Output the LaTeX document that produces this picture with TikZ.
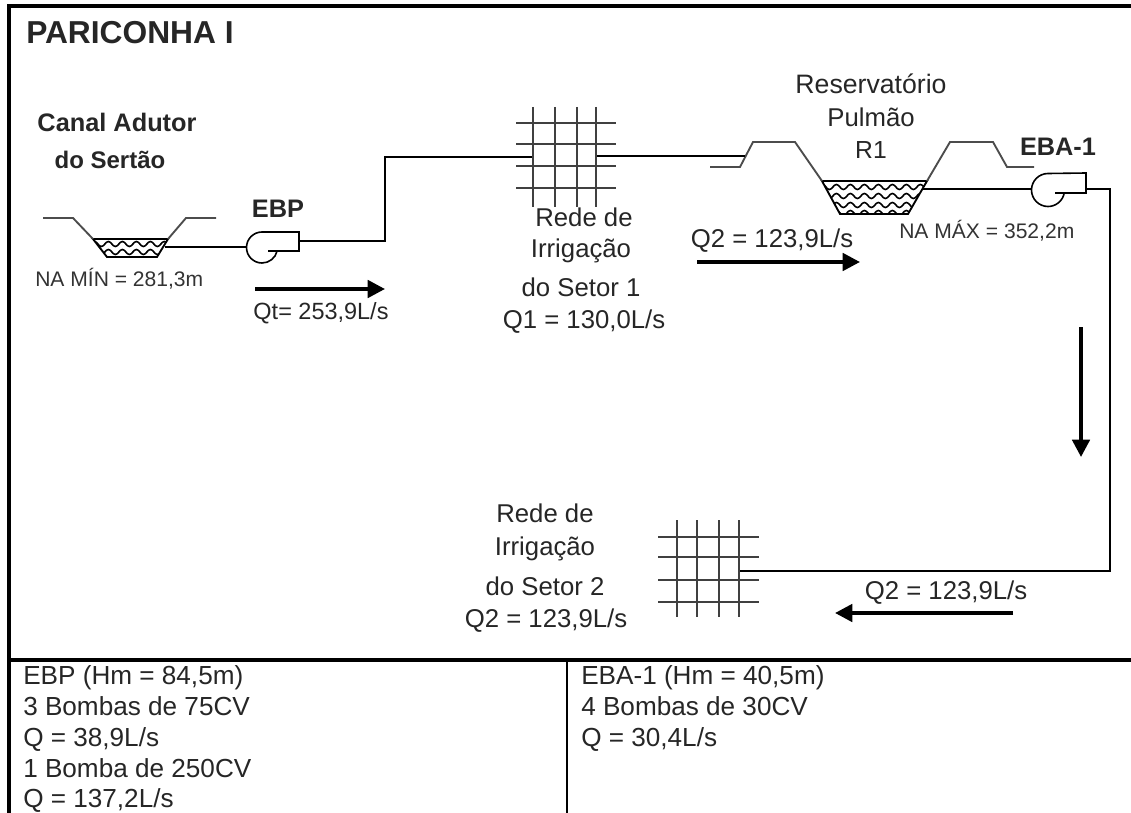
\documentclass[tikz,border=0pt]{standalone}
\usepackage{fontspec}
\setmainfont{Liberation Sans}
\usepackage{tikz}
\usetikzlibrary{decorations.pathmorphing}
\usetikzlibrary{arrows.meta}
\tikzset{
  pipe/.style={line width=1.1pt},
  bank/.style={line width=1.4pt, draw=black!70},
  frameline/.style={line width=3pt},
  flow/.style={line width=2.8pt, -{Triangle[length=13pt,width=13pt]}},
  gridline/.style={line width=2pt, draw=black!75},
  wave/.style={line width=1.2pt, decorate, decoration={snake, amplitude=1.9pt, segment length=10.5pt}},
  txt/.style={font=\fontsize{19.3}{23}\selectfont, inner sep=0pt, align=center, text=black!85},
  small/.style={font=\fontsize{15.8}{19}\selectfont, inner sep=0pt, anchor=west, text=black!80},
  bold/.style={font=\fontsize{19}{23}\selectfont\bfseries, inner sep=0pt, align=center, text=black!85},
  tabletxt/.style={font=\fontsize{19.6}{23.2}\selectfont, inner sep=0pt, align=left, anchor=north west, text=black!85}
}
\begin{document}
\begin{tikzpicture}[x=0.75pt,y=-0.75pt]

  \useasboundingbox (0,0) rectangle (1131,813);

  % frame
  \coordinate (f1) at (8.5,6.5);
  \coordinate (f2) at (1131,6.5);
  \coordinate (f3) at (8.5,813);
  \draw[frameline] (f3) -- (f1) -- (f2);
  \draw[frameline] (8.5,660) -- (1131,660);
  \draw[line width=1.4pt] (567,660) -- (567,813);

  % canal
  \coordinate (c1) at (93,239);
  \coordinate (c2) at (168,239);
  \coordinate (c3) at (157,257);
  \coordinate (c4) at (107,257);
  \begin{scope}
    \clip (c1) -- (c2) -- (c3) -- (c4) -- cycle;
    \foreach \y in {244,252}
      \draw[wave] (90,\y) -- (172,\y);
  \end{scope}
  \draw[line width=1.4pt] (c1) -- (c2) -- (c3) -- (c4) -- cycle;
  \draw[bank] (43,218) -- (73,218) -- (c1);
  \draw[bank] (c2) -- (186,218) -- (216,218);

  % reservoir
  \coordinate (r1) at (822,181);
  \coordinate (r2) at (927,181);
  \coordinate (r3) at (908,214);
  \coordinate (r4) at (840,214);
  \begin{scope}
    \clip (r1) -- (r2) -- (r3) -- (r4) -- cycle;
    \foreach \y in {187,196,205,213}
      \draw[wave] (818,\y) -- (932,\y);
  \end{scope}
  \draw[line width=1.4pt] (r1) -- (r2) -- (r3) -- (r4) -- cycle;
  \draw[bank] (710,167) -- (740,167) -- (753,142) -- (795,142) -- (r1);
  \draw[bank] (r2) -- (950,142) -- (993,142) -- (1007,167) -- (1034,167);

  % pumps
  \coordinate (ebp) at (262,247.5);
  \coordinate (eba) at (1048,190);
  \draw[line width=1.2pt] (ebp) ++(-90:15.5) -- (299,232) -- (299,251) -- (268,251);
  \draw[line width=1.2pt] (ebp) ++(-90:15.5) arc (-90:-347:15.5);
  \draw[line width=1.2pt] (eba) ++(-90:16.5) -- (1086,173) -- (1086,193) -- (1055,193);
  \draw[line width=1.2pt] (eba) ++(-90:16.5) arc (-90:-349:16.5);

  % pipes
  \draw[pipe] (165,247) -- (246.5,247);
  \draw[pipe] (299,241) -- (385,241) -- (385,157) -- (533,157);
  \draw[pipe] (596,156) -- (745,156);
  \draw[pipe] (923,189) -- (1031.5,189);
  \draw[pipe] (1086,189) -- (1110,189) -- (1110,571) -- (739,571);

  % grids
  \foreach \x in {533,555,577,596}
    \draw[gridline] (\x,107) -- (\x,207);
  \foreach \y in {123,144,166,188}
    \draw[gridline] (516,\y) -- (616,\y);
  \foreach \x in {677,697,719,739}
    \draw[gridline] (\x,520) -- (\x,617);
  \foreach \y in {537,557,580,602}
    \draw[gridline] (658,\y) -- (759,\y);

  % flows
  \draw[flow] (255,289) -- (385,289);
  \draw[flow] (697,262) -- (860,262);
  \draw[flow] (1081,327) -- (1081,457);
  \draw[flow] (1013,613) -- (835,613);

  % labels
  \node[font=\fontsize{23.8}{28}\selectfont\bfseries, inner sep=0pt, anchor=west, text=black!85] (title) at (26,33) {PARICONHA I};
  \node[bold] (canal1) at (117,122) {Canal Adutor};
  \node[bold, font=\fontsize{18}{23}\selectfont\bfseries] (canal2) at (110,160) {do Sertão};
  \node[bold] (ebplabel) at (278,209) {EBP};
  \node[bold] (ebalabel) at (1058,147) {EBA-1};
  \node[small] (namin) at (35,279) {NA MÍN = 281,3m};
  \node[small] (namax) at (899,231) {NA MÁX = 352,2m};
  \node[txt, font=\fontsize{20}{23}\selectfont] (res) at (871,84) {Reservatório};
  \node[txt] (pul) at (871,117) {Pulmão};
  \node[txt, font=\fontsize{18.5}{23}\selectfont] (r1label) at (871,150) {R1};
  \node[txt] (s1a) at (584,217) {Rede de};
  \node[txt] (s1b) at (581,251) {Irrigação};
  \node[txt] (s1c) at (581,287) {do Setor 1};
  \node[txt] (s1d) at (584,322) {Q1 = 130,0L/s};
  \node[txt, font=\fontsize{17.6}{23}\selectfont] (qt) at (321,313) {Qt= 253,9L/s};
  \node[txt] (q2a) at (772,241) {Q2 = 123,9L/s};
  \node[txt] (q2b) at (946,593) {Q2 = 123,9L/s};
  \node[txt] (s2a) at (545,513) {Rede de};
  \node[txt] (s2b) at (545,549) {Irrigação};
  \node[txt] (s2c) at (545,586) {do Setor 2};
  \node[txt] (s2d) at (546,621) {Q2 = 123,9L/s};

  \node[tabletxt] (ebptab) at (23,665) {EBP (Hm = 84,5m)\\3 Bombas de 75CV\\Q = 38,9L/s\\1 Bomba de 250CV\\Q = 137,2L/s};
  \node[tabletxt] (ebatab) at (581,665) {EBA-1 (Hm = 40,5m)\\4 Bombas de 30CV\\Q = 30,4L/s};

\end{tikzpicture}
\end{document}
